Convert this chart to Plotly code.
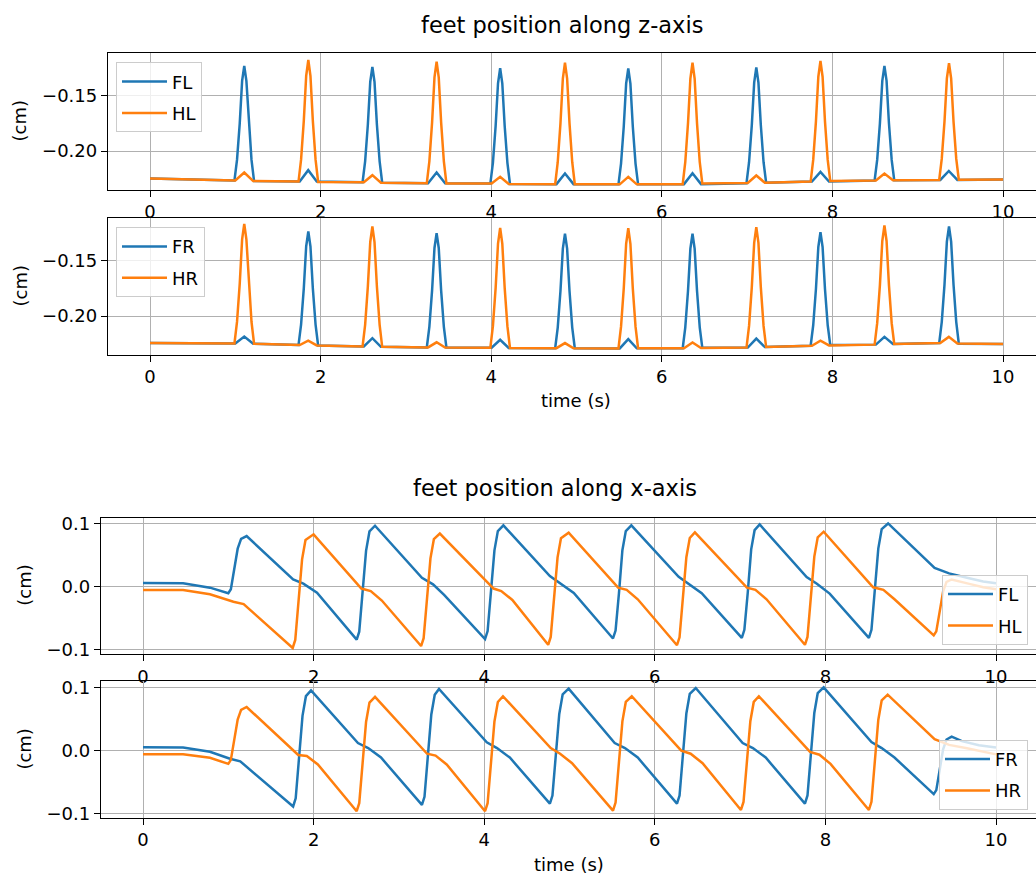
import plotly.graph_objects as go

# ---------------- data ----------------
# sample times of the z-axis traces (two swing phases)
t_z_phase_a = [0,
               0.99, 1.02, 1.052, 1.08, 1.105, 1.13, 1.158, 1.19, 1.22,
               1.755, 1.855, 1.955,
               2.492, 2.522, 2.554, 2.582, 2.607, 2.632, 2.66, 2.692, 2.722,
               3.26, 3.36, 3.46,
               3.99, 4.02, 4.052, 4.08, 4.105, 4.13, 4.158, 4.19, 4.22,
               4.765, 4.865, 4.965,
               5.492, 5.522, 5.554, 5.582, 5.607, 5.632, 5.66, 5.692, 5.722,
               6.26, 6.36, 6.46,
               6.993, 7.023, 7.055, 7.083, 7.108, 7.133, 7.161, 7.193, 7.223,
               7.76, 7.86, 7.96,
               8.495, 8.525, 8.557, 8.585, 8.61, 8.635, 8.663, 8.695, 8.725,
               9.265, 9.365, 9.465,
               10.0]
t_z_phase_b = [0,
               1.0, 1.105, 1.21,
               1.741, 1.771, 1.803, 1.831, 1.856, 1.881, 1.909, 1.941, 1.971,
               2.507, 2.607, 2.707,
               3.245, 3.275, 3.307, 3.335, 3.36, 3.385, 3.413, 3.445, 3.475,
               4.005, 4.105, 4.205,
               4.75, 4.78, 4.812, 4.84, 4.865, 4.89, 4.918, 4.95, 4.98,
               5.507, 5.607, 5.707,
               6.245, 6.275, 6.307, 6.335, 6.36, 6.385, 6.413, 6.445, 6.475,
               7.008, 7.108, 7.208,
               7.745, 7.775, 7.807, 7.835, 7.86, 7.885, 7.913, 7.945, 7.975,
               8.51, 8.61, 8.71,
               9.252, 9.282, 9.314, 9.342, 9.367, 9.392, 9.42, 9.452, 9.482,
               10.0]

z_FL = [-0.2247,
        -0.2265, -0.2079, -0.1748, -0.1365, -0.1230, -0.1365, -0.1748, -0.2079, -0.2270,
        -0.2275, -0.2172, -0.2275,
        -0.2280, -0.2092, -0.1759, -0.1374, -0.1238, -0.1374, -0.1759, -0.2092, -0.2285,
        -0.2290, -0.2193, -0.2290,
        -0.2293, -0.2105, -0.1772, -0.1386, -0.1250, -0.1386, -0.1772, -0.2105, -0.2296,
        -0.2298, -0.2202, -0.2298,
        -0.2300, -0.2112, -0.1777, -0.1389, -0.1253, -0.1389, -0.1777, -0.2112, -0.2300,
        -0.2298, -0.2199, -0.2298,
        -0.2290, -0.2100, -0.1766, -0.1380, -0.1244, -0.1380, -0.1766, -0.2100, -0.2285,
        -0.2275, -0.2187, -0.2275,
        -0.2265, -0.2079, -0.1748, -0.1365, -0.1230, -0.1365, -0.1748, -0.2079, -0.2263,
        -0.2260, -0.2179, -0.2260,
        -0.2256]
z_HL = [-0.2247,
        -0.2265, -0.2193, -0.2270,
        -0.2275, -0.2077, -0.1726, -0.1319, -0.1176, -0.1319, -0.1726, -0.2077, -0.2278,
        -0.2280, -0.2217, -0.2285,
        -0.2290, -0.2092, -0.1740, -0.1333, -0.1190, -0.1333, -0.1740, -0.2092, -0.2292,
        -0.2293, -0.2232, -0.2296,
        -0.2298, -0.2100, -0.1749, -0.1343, -0.1200, -0.1343, -0.1749, -0.2100, -0.2299,
        -0.2300, -0.2232, -0.2300,
        -0.2298, -0.2100, -0.1749, -0.1343, -0.1200, -0.1343, -0.1749, -0.2100, -0.2293,
        -0.2288, -0.2220, -0.2285,
        -0.2275, -0.2079, -0.1730, -0.1327, -0.1185, -0.1327, -0.1730, -0.2079, -0.2270,
        -0.2265, -0.2202, -0.2263,
        -0.2260, -0.2070, -0.1733, -0.1342, -0.1205, -0.1342, -0.1733, -0.2070, -0.2258,
        -0.2256]
z_FR = [-0.2244,
        -0.2247, -0.2185, -0.2250,
        -0.2262, -0.2077, -0.1749, -0.1369, -0.1235, -0.1369, -0.1749, -0.2077, -0.2266,
        -0.2274, -0.2200, -0.2278,
        -0.2283, -0.2097, -0.1767, -0.1384, -0.1250, -0.1384, -0.1767, -0.2097, -0.2285,
        -0.2286, -0.2214, -0.2288,
        -0.2290, -0.2104, -0.1773, -0.1390, -0.1256, -0.1390, -0.1773, -0.2104, -0.2291,
        -0.2292, -0.2208, -0.2291,
        -0.2290, -0.2104, -0.1773, -0.1390, -0.1256, -0.1390, -0.1773, -0.2104, -0.2287,
        -0.2285, -0.2203, -0.2280,
        -0.2268, -0.2083, -0.1755, -0.1375, -0.1241, -0.1375, -0.1755, -0.2083, -0.2262,
        -0.2258, -0.2188, -0.2252,
        -0.2244, -0.2054, -0.1717, -0.1327, -0.1190, -0.1327, -0.1717, -0.2054, -0.2250,
        -0.2253]
z_HR = [-0.2244,
        -0.2247, -0.2053, -0.1707, -0.1307, -0.1167, -0.1307, -0.1707, -0.2053, -0.2250,
        -0.2262, -0.2223, -0.2265,
        -0.2274, -0.2079, -0.1732, -0.1331, -0.1190, -0.1331, -0.1732, -0.2079, -0.2278,
        -0.2283, -0.2237, -0.2284,
        -0.2286, -0.2091, -0.1745, -0.1344, -0.1203, -0.1344, -0.1745, -0.2091, -0.2288,
        -0.2290, -0.2244, -0.2291,
        -0.2292, -0.2096, -0.1749, -0.1346, -0.1205, -0.1346, -0.1749, -0.2096, -0.2291,
        -0.2290, -0.2238, -0.2288,
        -0.2285, -0.2089, -0.1741, -0.1338, -0.1196, -0.1338, -0.1741, -0.2089, -0.2280,
        -0.2268, -0.2223, -0.2265,
        -0.2258, -0.2064, -0.1720, -0.1321, -0.1181, -0.1321, -0.1720, -0.2064, -0.2252,
        -0.2244, -0.2188, -0.2248,
        -0.2253]

# x-axis, front-left / hind-left
t_x_FL = [0, 0.47, 0.785, 0.95, 1.0, 1.03, 1.07, 1.11, 1.15, 1.215, 1.76, 1.88, 2.04, 2.505, 2.535,
          2.575, 2.615, 2.655, 2.72, 3.27, 3.40, 3.53, 4.01, 4.04, 4.08, 4.12, 4.16, 4.225, 4.77,
          4.89, 5.05, 5.51, 5.54, 5.58, 5.62, 5.66, 5.725, 6.28, 6.39, 6.55, 7.02, 7.05, 7.09, 7.13,
          7.17, 7.23, 7.78, 7.90, 8.05, 8.51, 8.54, 8.58, 8.62, 8.66, 8.735, 9.28, 9.45, 9.66, 9.85,
          10.0]
x_FL = [0.0057, 0.0052, -0.0016, -0.0085, -0.0105, -0.0042, 0.0257, 0.0601, 0.0755, 0.0800,
        0.0114, 0.0047, -0.0094, -0.0839, -0.0713, -0.0118, 0.0567, 0.0874, 0.0964, 0.0140,
        0.0036, -0.0130, -0.0830, -0.0704, -0.0110, 0.0574, 0.0880, 0.0970, 0.0167, 0.0047,
        -0.0100, -0.0820, -0.0695, -0.0104, 0.0576, 0.0880, 0.0970, 0.0156, 0.0047, -0.0105,
        -0.0810, -0.0684, -0.0092, 0.0590, 0.0894, 0.0984, 0.0150, 0.0045, -0.0110, -0.0810,
        -0.0683, -0.0086, 0.0602, 0.0910, 0.1000, 0.0297, 0.0210, 0.0140, 0.0080, 0.0052]

t_x_HL = [0, 0.47, 0.785, 0.95, 1.06, 1.18, 1.755, 1.785, 1.825, 1.865, 1.905, 2.0, 2.56, 2.67,
          2.80, 3.26, 3.29, 3.33, 3.37, 3.41, 3.48, 4.11, 4.20, 4.33, 4.75, 4.78, 4.82, 4.86, 4.90,
          4.99, 5.57, 5.67, 5.80, 6.26, 6.29, 6.33, 6.37, 6.41, 6.47, 7.08, 7.18, 7.31, 7.76, 7.79,
          7.83, 7.87, 7.91, 7.98, 8.56, 8.68, 8.81, 9.27, 9.30, 9.34, 9.38, 9.42, 9.48, 9.70, 9.85,
          10.0]
x_HL = [-0.0052, -0.0055, -0.0120, -0.0190, -0.0240, -0.0276, -0.0970, -0.0844, -0.0251, 0.0432,
        0.0738, 0.0828, -0.0030, -0.0070, -0.0220, -0.0940, -0.0815, -0.0228, 0.0448, 0.0751,
        0.0840, -0.0030, -0.0070, -0.0210, -0.0920, -0.0796, -0.0210, 0.0464, 0.0765, 0.0854,
        -0.0016, -0.0050, -0.0200, -0.0927, -0.0802, -0.0213, 0.0466, 0.0770, 0.0859, -0.0016,
        -0.0050, -0.0200, -0.0920, -0.0795, -0.0204, 0.0476, 0.0780, 0.0870, -0.0011, -0.0050,
        -0.0200, -0.0770, -0.0708, -0.0414, -0.0076, 0.0075, 0.0114, 0.0040, -0.0010, -0.0040]

# x-axis, front-right / hind-right
t_x_FR = [0, 0.47, 0.785, 1.02, 1.14, 1.76, 1.79, 1.83, 1.87, 1.91, 1.97, 2.52, 2.64, 2.79, 3.27,
          3.30, 3.34, 3.38, 3.42, 3.47, 4.03, 4.15, 4.30, 4.77, 4.80, 4.84, 4.88, 4.92, 4.99, 5.53,
          5.65, 5.80, 6.26, 6.29, 6.33, 6.37, 6.41, 6.48, 7.03, 7.15, 7.30, 7.76, 7.79, 7.83, 7.87,
          7.91, 7.98, 8.54, 8.66, 8.81, 9.27, 9.30, 9.34, 9.38, 9.42, 9.48, 9.60, 9.80, 10.0]
x_FR = [0.0052, 0.0048, -0.0020, -0.0130, -0.0170, -0.0885, -0.0756, -0.0150, 0.0549, 0.0861,
        0.0953, 0.0120, 0.0040, -0.0110, -0.0860, -0.0732, -0.0126, 0.0571, 0.0882, 0.0974,
        0.0130, 0.0040, -0.0110, -0.0840, -0.0713, -0.0112, 0.0580, 0.0889, 0.0980, 0.0120,
        0.0040, -0.0110, -0.0840, -0.0712, -0.0108, 0.0587, 0.0899, 0.0990, 0.0120, 0.0040,
        -0.0110, -0.0840, -0.0711, -0.0104, 0.0595, 0.0908, 0.1000, 0.0135, 0.0040, -0.0110,
        -0.0690, -0.0626, -0.0326, 0.0020, 0.0175, 0.0220, 0.0150, 0.0085, 0.0050]

t_x_HR = [0, 0.47, 0.785, 1.0, 1.03, 1.07, 1.11, 1.15, 1.215, 1.82, 1.92, 2.05, 2.505, 2.535,
          2.575, 2.615, 2.655, 2.72, 3.33, 3.43, 3.56, 4.01, 4.04, 4.08, 4.12, 4.16, 4.22, 4.78,
          4.89, 5.03, 5.51, 5.54, 5.58, 5.62, 5.66, 5.73, 6.31, 6.42, 6.56, 7.01, 7.04, 7.08, 7.12,
          7.16, 7.22, 7.82, 7.93, 8.06, 8.51, 8.54, 8.58, 8.62, 8.66, 8.73, 9.28, 9.45, 9.66, 9.85,
          10.0]
x_HR = [-0.0057, -0.0060, -0.0115, -0.0210, -0.0147, 0.0150, 0.0492, 0.0645, 0.0690, -0.0070,
        -0.0085, -0.0220, -0.0960, -0.0833, -0.0236, 0.0452, 0.0760, 0.0850, -0.0050, -0.0080,
        -0.0220, -0.0960, -0.0833, -0.0232, 0.0460, 0.0769, 0.0860, 0.0040, -0.0050, -0.0200,
        -0.0950, -0.0823, -0.0226, 0.0462, 0.0770, 0.0860, 0.0000, -0.0050, -0.0200, -0.0940,
        -0.0814, -0.0220, 0.0464, 0.0770, 0.0860, -0.0020, -0.0065, -0.0210, -0.0940, -0.0812,
        -0.0210, 0.0484, 0.0794, 0.0885, 0.0180, 0.0090, 0.0036, -0.0020, -0.0060]

x_tick_vals = [0, 2, 4, 6, 8, 10]
x_tick_text = ["0", "2", "4", "6", "8", "10"]
z_tick_vals = [-0.20, -0.15]
z_tick_text = ["\u22120.20", "\u22120.15"]
xpos_tick_vals = [-0.1, 0.0, 0.1]
xpos_tick_text = ["\u22120.1", "0.0", "0.1"]

# ---------------- figure ----------------
W, H = 1036, 882
BLUE, ORANGE = "#1f77b4", "#ff7f0e"
FONT = "DejaVu Sans"
FS = 18
FS_TITLE = 22.5

fig = go.Figure()


def add(t, v, name, color, ax, legend):
    fig.add_trace(go.Scatter(
        x=t, y=v, name=name, mode="lines", legendgroup=name + ax,
        line=dict(color=color, width=2.5),
        xaxis="x" + ax, yaxis="y" + ax, legend=legend))


add(t_z_phase_a, z_FL, "FL", BLUE, "", "legend")
add(t_z_phase_b, z_HL, "HL", ORANGE, "", "legend")
add(t_z_phase_b, z_FR, "FR", BLUE, "2", "legend2")
add(t_z_phase_a, z_HR, "HR", ORANGE, "2", "legend2")
add(t_x_FL, x_FL, "FL", BLUE, "3", "legend3")
add(t_x_HL, x_HL, "HL", ORANGE, "3", "legend3")
add(t_x_FR, x_FR, "FR", BLUE, "4", "legend4")
add(t_x_HR, x_HR, "HR", ORANGE, "4", "legend4")


def px_x(p):
    return p / W


def px_y(p):
    return 1 - p / H


common_x = dict(tickvals=x_tick_vals, ticktext=x_tick_text, ticks="outside", ticklen=6,
                tickwidth=1.3, tickcolor="black", showline=True, linecolor="black", linewidth=1.3,
                mirror=True, showgrid=True, gridcolor="#b0b0b0", gridwidth=1.2, zeroline=False,
                tickfont=dict(family=FONT, size=FS, color="black"))
common_y = dict(ticks="outside", ticklen=6, tickwidth=1.3, tickcolor="black", showline=True,
                linecolor="black", linewidth=1.3, mirror=False, showgrid=True,
                gridcolor="#b0b0b0", gridwidth=1.2, zeroline=False,
                tickfont=dict(family=FONT, size=FS, color="black"))

top_dom = [px_x(108), 1.0]
bot_dom = [px_x(101), 1.0]
top_rng = [-42 / 85.3, 886 / 85.3]
bot_rng = [-42 / 85.3, 893 / 85.3]

legend_style = dict(bgcolor="rgba(255,255,255,0.8)", bordercolor="#cccccc", borderwidth=1,
                    font=dict(family=FONT, size=FS, color="black"), itemwidth=45,
                    tracegroupgap=5, traceorder="grouped")

fig.update_layout(
    width=W, height=H, margin=dict(l=0, r=0, t=0, b=0),
    paper_bgcolor="white", plot_bgcolor="white",
    font=dict(family=FONT, size=FS, color="black"),
    xaxis=dict(domain=top_dom, range=top_rng, anchor="y", **common_x),
    yaxis=dict(domain=[px_y(187), px_y(49)], range=[-0.2348, -0.1116], anchor="x",
               tickvals=z_tick_vals, ticktext=z_tick_text, **common_y),
    xaxis2=dict(domain=top_dom, range=top_rng, anchor="y2", **common_x),
    yaxis2=dict(domain=[px_y(354), px_y(216)], range=[-0.2348, -0.1116], anchor="x2",
                tickvals=z_tick_vals, ticktext=z_tick_text, **common_y),
    xaxis3=dict(domain=bot_dom, range=bot_rng, anchor="y3", **common_x),
    yaxis3=dict(domain=[px_y(657), px_y(519)], range=[-0.1063, 0.1094], anchor="x3",
                tickvals=xpos_tick_vals, ticktext=xpos_tick_text, **common_y),
    xaxis4=dict(domain=bot_dom, range=bot_rng, anchor="y4", **common_x),
    yaxis4=dict(domain=[px_y(823), px_y(685)], range=[-0.1063, 0.1094], anchor="x4",
                tickvals=xpos_tick_vals, ticktext=xpos_tick_text, **common_y),
    legend=dict(x=px_x(116), y=px_y(58), xanchor="left", yanchor="top", **legend_style),
    legend2=dict(x=px_x(116), y=px_y(225), xanchor="left", yanchor="top", **legend_style),
    legend3=dict(x=px_x(1028), y=px_y(648), xanchor="right", yanchor="bottom", **legend_style),
    legend4=dict(x=px_x(1028), y=px_y(815), xanchor="right", yanchor="bottom", **legend_style),
)

annots = [
    dict(text="feet position along z-axis", x=px_x(562), y=px_y(20), size=FS_TITLE, angle=0),
    dict(text="feet position along x-axis", x=px_x(555), y=px_y(489), size=FS_TITLE, angle=0),
    dict(text="(cm)", x=px_x(20), y=px_y(118), size=FS, angle=-90),
    dict(text="(cm)", x=px_x(20), y=px_y(285), size=FS, angle=-90),
    dict(text="(cm)", x=px_x(25), y=px_y(588), size=FS, angle=-90),
    dict(text="(cm)", x=px_x(25), y=px_y(754), size=FS, angle=-90),
    dict(text="time (s)", x=px_x(576), y=px_y(401), size=FS, angle=0),
    dict(text="time (s)", x=px_x(569), y=px_y(870), size=FS, angle=0),
]
for a in annots:
    fig.add_annotation(text=a["text"], x=a["x"], y=a["y"], xref="paper", yref="paper",
                       xanchor="center", yanchor="middle", showarrow=False,
                       textangle=a["angle"], font=dict(family=FONT, size=a["size"], color="black"))

fig.write_html("out.html")
